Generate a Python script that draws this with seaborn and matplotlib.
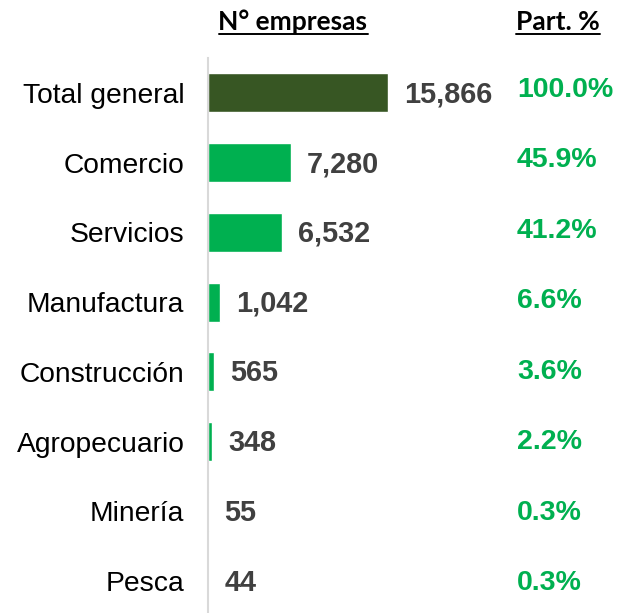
import matplotlib
matplotlib.use("Agg")
import matplotlib.pyplot as plt
import seaborn as sns
import pandas as pd
from matplotlib.lines import Line2D

categories = ["Total general", "Comercio", "Servicios", "Manufactura",
              "Construcción", "Agropecuario", "Minería", "Pesca"]
empresas = [15866, 7280, 6532, 1042, 565, 348, 55, 44]
participacion = ["100.0%", "45.9%", "41.2%", "6.6%", "3.6%", "2.2%", "0.3%", "0.3%"]

dark_green = "#375623"
green = "#00B050"
gray_text = "#404040"

df = pd.DataFrame({"sector": categories, "n": empresas})
palette = {c: (dark_green if i == 0 else green) for i, c in enumerate(categories)}

sns.set_style("white")
plt.rcParams["font.family"] = ["Liberation Sans", "DejaVu Sans"]

fig = plt.figure(figsize=(6.21, 6.13), dpi=100)
W, H = 621, 613
PX = 72 / 100  # points per pixel
ax = fig.add_axes([208 / W, (613 - 616) / H, 413 / W, 558 / H])

sns.barplot(data=df, x="n", y="sector", hue="sector", palette=palette,
            legend=False, width=0.56, ax=ax, saturation=1)

ax.set_xlim(0, 413 / (180 / 15866))
ax.set_ylim(7.5, -0.5)
ax.set_xlabel("")
ax.set_ylabel("")
ax.set_xticks([])
ax.tick_params(axis="y", length=0, pad=17, labelsize=20.3, labelcolor="black")
for s in ["top", "right", "bottom"]:
    ax.spines[s].set_visible(False)
ax.spines["left"].set_color("#D9D9D9")
ax.spines["left"].set_linewidth(1.5)
ax.patch.set_alpha(0)

for i, (v, p) in enumerate(zip(empresas, participacion)):
    ax.annotate(f"{v:,}", xy=(v, i), xytext=(16 * PX, -1.5 * PX),
                textcoords="offset points", ha="left", va="center",
                fontsize=20.8, fontweight="bold", color=gray_text)
    dy = -3 + 0.7 * i  # pixel drift of the percentage column
    ax.annotate(p, xy=((517 - 208) / 413, i), xycoords=ax.get_yaxis_transform(),
                xytext=(0, -dy * PX), textcoords="offset points",
                ha="left", va="center", fontsize=20.5, fontweight="bold", color=green)

hdr_font = ["Lato", "DejaVu Sans"]
t1 = fig.text(293 / W, 1 - 30 / H, "N° empresas", ha="center", va="baseline",
              fontsize=19, fontweight="bold", family=hdr_font, color="black")
t2 = fig.text(558 / W, 1 - 30 / H, "Part. %", ha="center", va="baseline",
              fontsize=19, fontweight="bold", family=hdr_font, color="black")

fig.canvas.draw()
r = fig.canvas.get_renderer()
for t in (t1, t2):
    bb = t.get_window_extent(r)
    y = (613 - 34) / H
    fig.add_artist(Line2D([bb.x0 / W, bb.x1 / W], [y, y],
                          transform=fig.transFigure, color="black", lw=1.4))

fig.savefig("out.png", dpi=100)
